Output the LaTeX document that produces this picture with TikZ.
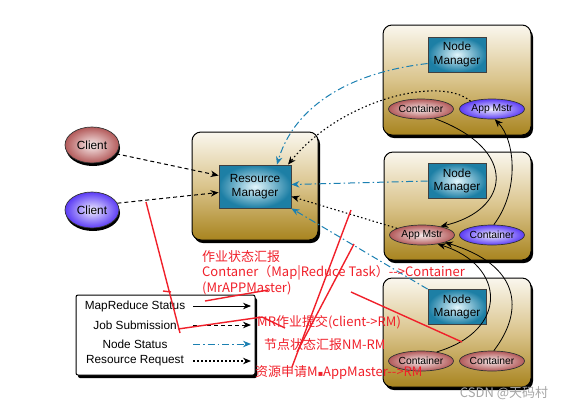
\documentclass[tikz,border=0pt]{standalone}
\usepackage{fontspec}
\setmainfont{Liberation Sans}
\newfontfamily\cjk{Noto Sans CJK SC}
\newfontfamily\dejavu{DejaVu Sans}
\usetikzlibrary{shapes.geometric,shadows,arrows.meta}

\definecolor{hosttop}{HTML}{FAF7EE}
\definecolor{hostmid}{HTML}{DAC48C}
\definecolor{hostbot}{HTML}{A8841F}
\definecolor{mgrout}{HTML}{1D7FA5}
\definecolor{mgrin}{HTML}{E2F6FC}
\definecolor{ctrout}{HTML}{B35A5A}
\definecolor{ctrin}{HTML}{F8ECEC}
\definecolor{amout}{HTML}{5B3BF5}
\definecolor{amin}{HTML}{F0EEFF}
\definecolor{nodeblue}{HTML}{1B80B2}
\definecolor{notered}{HTML}{F0202A}

\begin{document}
\begin{tikzpicture}[x=1pt,y=-1pt,
  host/.style={draw=black,line width=1pt,rounded corners=9pt,top color=hosttop,bottom color=hostbot,middle color=hostmid,
    drop shadow={shadow xshift=2pt,shadow yshift=-3pt,fill=black,opacity=1}},
  mgr/.style={draw=black!75,line width=0.8pt,inner color=mgrin,outer color=mgrout,minimum width=58pt,minimum height=35pt,
    inner sep=0pt,align=center,font=\fontsize{11.8}{13.5}\selectfont},
  ctr/.style={ellipse,draw=black!80,line width=0.7pt,inner color=ctrin,outer color=ctrout,minimum width=65pt,minimum height=20pt,
    inner sep=0pt,font=\fontsize{10.3}{11}\selectfont},
  am/.style={ctr,inner color=amin,outer color=amout},
  client/.style={ellipse,draw=black!80,line width=0.7pt,minimum width=54pt,minimum height=36pt,inner sep=0pt,
    font=\fontsize{11.8}{13}\selectfont,drop shadow={shadow xshift=1pt,shadow yshift=-3pt,fill=black,opacity=1}},
  tip/.style={-{Stealth[length=8pt,width=6.5pt]}},
  mrstat/.style={tip,line width=0.8pt},
  jobsub/.style={tip,line width=1pt,dash pattern=on 4pt off 3pt},
  nodestat/.style={tip,nodeblue,line width=1pt,dash pattern=on 7pt off 3pt on 1.5pt off 3pt},
  resreq/.style={tip,line width=1.1pt,dash pattern=on 1.5pt off 2.5pt},
  lgtext/.style={font=\fontsize{11.8}{13}\selectfont},
  note/.style={notered,line width=1.4pt},
  redtxt/.style={text=notered,inner sep=0pt,font=\cjk\fontsize{13}{15.5}\selectfont}]

\useasboundingbox (0,0) rectangle (569,408);

% hosts
\node[host,minimum width=126pt,minimum height=108pt] (rmhost) at (255,186) {};
\node[host,minimum width=148pt,minimum height=110pt] (hostA) at (457,80) {};
\node[host,minimum width=147pt,minimum height=108pt] (hostB) at (457.5,206) {};
\node[host,minimum width=148pt,minimum height=109pt] (hostC) at (457,332.5) {};

\node[mgr,minimum width=72pt,minimum height=43pt] (rm) at (255,186.5) {Resource\\Manager};
\node[mgr] (nmA) at (457,54.5) {Node\\Manager};
\node[mgr] (nmB) at (457,181) {Node\\Manager};
\node[mgr] (nmC) at (457,307) {Node\\Manager};

\node[ctr] (ctA) at (421,109) {Container};
\node[am] (amA) at (492,109) {App Mstr};
\node[ctr] (amB) at (422,235) {App Mstr};
\node[am] (ctB) at (492,235) {Container};
\node[ctr] (ctC) at (421,361) {Container};
\node[ctr] (ctD) at (492,361) {Container};

% clients
\node[client,inner color=ctrin,outer color=ctrout] (clA) at (92,145) {Client};
\node[client,inner color=amin,outer color=amout] (clB) at (92,210) {Client};

\draw[jobsub] (clA.-20) -- ([yshift=11pt]rm.west);
\draw[jobsub] (clB.15) -- ([yshift=-6pt]rm.west);

% node status
\draw[nodestat] ([yshift=-9pt]nmA.west) .. controls (330,75) and (290,120) .. ([xshift=22pt]rm.north);
\draw[nodestat] (nmB.west) -- ([yshift=2pt]rm.east);
\draw[nodestat] (nmC.north west) -- (rm.south east);

% resource requests
\draw[resreq] (amA.160) .. controls (440,75) and (340,100) .. ([xshift=33pt]rm.north);
\draw[resreq] (amB.165) -- ([yshift=-10pt]rm.east);

% mapreduce status
\draw[mrstat] (ctA.-35) .. controls (520,150) and (510,210) .. (amB.25);
\draw[mrstat] (ctB.80) .. controls (520,190) and (515,140) .. (amA.-75);
\draw[mrstat] (ctC.30) .. controls (510,330) and (505,265) .. (amB.-30);
\draw[mrstat] (ctD.80) .. controls (525,310) and (520,265) .. (amB.-18);

% legend
\node[draw=black,line width=1pt,fill=white,rounded corners=2pt,minimum width=179pt,minimum height=80pt,
  drop shadow={shadow xshift=2pt,shadow yshift=-3pt,fill=black,opacity=1}] (legend) at (165.5,335) {};
\foreach \y/\lab/\sty [count=\i] in {306/MapReduce Status/mrstat,325/Job Submission/jobsub,
    344/Node Status/nodestat,361/Resource Request/resreq}{
  \node[lgtext] (lg\i) at (135,\y) {\lab};
  \coordinate (lg\i s) at (193,\y);
  \coordinate (lg\i e) at (251,\y);
  \draw[\sty] (lg\i s) -- (lg\i e);
}

% red notes
\node[redtxt,align=left,anchor=west] (noteA) at (202,272.5) {作业状态汇报\\Contaner（Map|Reduce Task）-{}->Container\\(MrAPPMaster)};
\node[redtxt,anchor=west] (noteB) at (257,322) {MR作业提交(client->RM)};
\node[redtxt,anchor=west] (noteC) at (264,345) {节点状态汇报NM-RM};
\node[redtxt,anchor=west] (noteD) at (255,373) {资源申请M{\dejavu\fontsize{8}{9}\selectfont ▪}AppMaster-{}->RM};

\draw[note] (146,202) -- (180,333);
\draw[note] (178,329) -- (262,317) -- (285,328);
\draw[note] (163,291) -- (171,292);
\draw[note] (205,301) -- (268,290);
\draw[note] (351,210) -- (292,367);
\draw[note] (354,244) -- (297,352);
\draw[note] (351,292) -- (462,342);

\node[text=black!35,inner sep=0pt,font=\cjk\fontsize{13}{15}\selectfont] (wm) at (504,393) {CSDN @天码村};

\end{tikzpicture}
\end{document}
